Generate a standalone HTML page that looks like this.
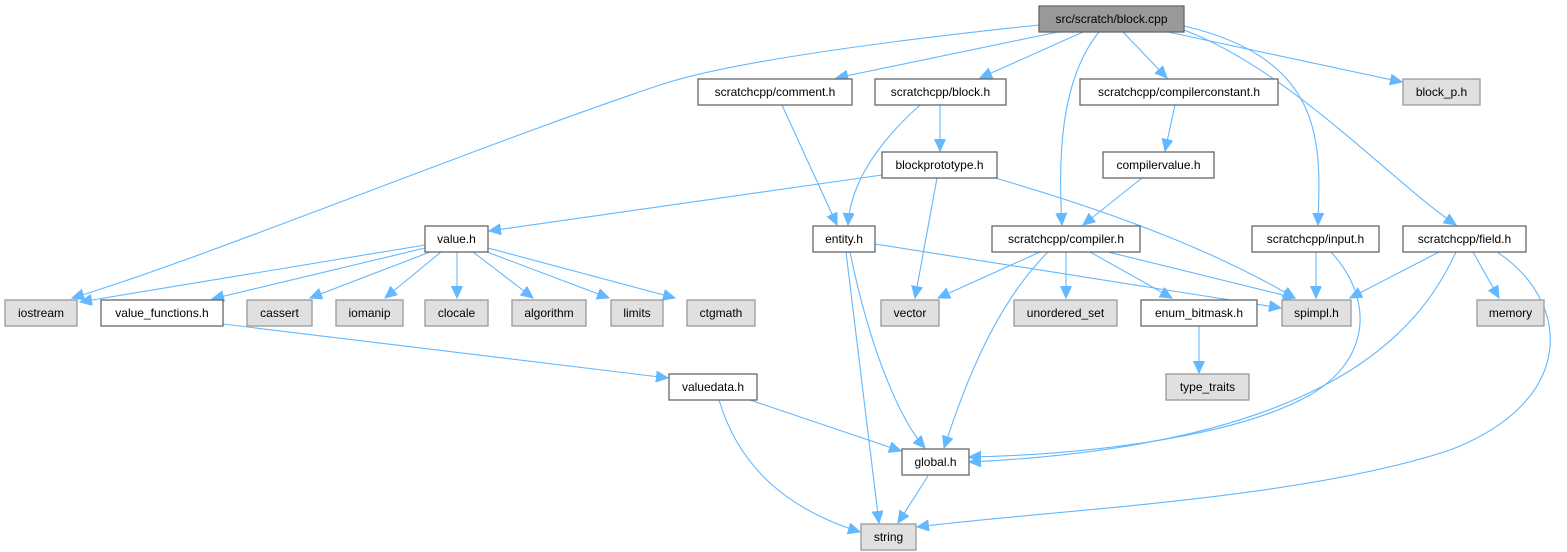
<!DOCTYPE html>
<html><head><meta charset="utf-8"><style>
body{margin:0;background:#fff;}
svg{display:block;}
text{font-family:"Liberation Sans",Arial,sans-serif;font-size:12px;fill:#000;text-anchor:middle;}
.e{fill:none;stroke:#63b8ff;stroke-width:1.1;marker-end:url(#a);}
.w{fill:#fff;stroke:#666;stroke-width:1.3;}
.g{fill:#e0e0e0;stroke:#999;stroke-width:1.3;}
.r{fill:#999;stroke:#666;stroke-width:1.3;}
</style></head><body>
<svg width="1567" height="552" viewBox="0 0 1567 552">
<defs><marker id="a" markerUnits="userSpaceOnUse" markerWidth="14" markerHeight="12" refX="12" refY="5.5" orient="auto"><path d="M0,0 L12,5.5 L0,11 z" fill="#63b8ff" stroke="#63b8ff"/></marker></defs>
<g>
<path class="e" d="M1039,25 C850,45 720,65 660,85 C480,145 200,260 72,298"/>
<path class="e" d="M1058,32 L836,78"/>
<path class="e" d="M1083,32 L980,78"/>
<path class="e" d="M1099,32 C1060,80 1058,160 1062,225"/>
<path class="e" d="M1123,32 L1167,78"/>
<path class="e" d="M1168,32 L1402,82"/>
<path class="e" d="M1184,26 C1330,60 1320,150 1318,225"/>
<path class="e" d="M1184,30 C1290,70 1390,180 1456,225"/>
<path class="e" d="M782,105 L837,225"/>
<path class="e" d="M920,105 C870,150 850,190 848,225"/>
<path class="e" d="M940,105 L940,151"/>
<path class="e" d="M1175,105 L1165,151"/>
<path class="e" d="M882,175 L489,231"/>
<path class="e" d="M937,178 L915,298"/>
<path class="e" d="M995,178 C1140,220 1230,260 1295,298"/>
<path class="e" d="M1142,178 L1083,225"/>
<path class="e" d="M425,245 L80,302"/>
<path class="e" d="M425,248 L212,299"/>
<path class="e" d="M430,252 L310,298"/>
<path class="e" d="M441,252 L385,298"/>
<path class="e" d="M457,252 L457,298"/>
<path class="e" d="M473,252 L533,298"/>
<path class="e" d="M487,252 L609,298"/>
<path class="e" d="M488,248 L675,298"/>
<path class="e" d="M223,324 L668,378"/>
<path class="e" d="M875,244 L1281,308"/>
<path class="e" d="M846,252 L879,523"/>
<path class="e" d="M850,252 C870,350 900,420 925,448"/>
<path class="e" d="M1040,252 L938,298"/>
<path class="e" d="M1066,252 L1066,298"/>
<path class="e" d="M1090,252 L1172,298"/>
<path class="e" d="M1108,252 L1295,298"/>
<path class="e" d="M1048,252 C990,310 960,400 944,448"/>
<path class="e" d="M1199,326 L1199,373"/>
<path class="e" d="M1316,252 L1316,298"/>
<path class="e" d="M1331,252 C1375,300 1370,360 1310,395 C1230,440 1070,455 969,457"/>
<path class="e" d="M1439,252 L1350,298"/>
<path class="e" d="M1456,252 C1420,330 1330,445 969,462"/>
<path class="e" d="M1473,252 L1499,298"/>
<path class="e" d="M1497,252 C1570,300 1580,400 1450,450 C1300,500 1050,510 917,527"/>
<path class="e" d="M750,400 L901,451"/>
<path class="e" d="M719,400 C740,470 790,510 860,532"/>
<path class="e" d="M928,476 L898,523"/>
</g>
<g>
<rect class="r" x="1039" y="6" width="145" height="26"/><text x="1111.5" y="23">src/scratch/block.cpp</text>
<rect class="w" x="698" y="79" width="154" height="26"/><text x="775" y="96">scratchcpp/comment.h</text>
<rect class="w" x="875" y="79" width="131" height="26"/><text x="940.5" y="96">scratchcpp/block.h</text>
<rect class="w" x="1080" y="79" width="198" height="26"/><text x="1179" y="96">scratchcpp/compilerconstant.h</text>
<rect class="g" x="1403" y="79" width="77" height="26"/><text x="1441.5" y="96">block_p.h</text>
<rect class="w" x="882" y="152" width="115" height="26"/><text x="939.5" y="169">blockprototype.h</text>
<rect class="w" x="1103" y="152" width="111" height="26"/><text x="1158.5" y="169">compilervalue.h</text>
<rect class="w" x="425" y="226" width="63" height="26"/><text x="456.5" y="243">value.h</text>
<rect class="w" x="813" y="226" width="62" height="26"/><text x="844" y="243">entity.h</text>
<rect class="w" x="992" y="226" width="148" height="26"/><text x="1066" y="243">scratchcpp/compiler.h</text>
<rect class="w" x="1252" y="226" width="127" height="26"/><text x="1315.5" y="243">scratchcpp/input.h</text>
<rect class="w" x="1403" y="226" width="123" height="26"/><text x="1464.5" y="243">scratchcpp/field.h</text>
<rect class="g" x="5" y="300" width="72" height="26"/><text x="41" y="317">iostream</text>
<rect class="w" x="101" y="300" width="122" height="26"/><text x="162" y="317">value_functions.h</text>
<rect class="g" x="247" y="300" width="65" height="26"/><text x="279.5" y="317">cassert</text>
<rect class="g" x="336" y="300" width="67" height="26"/><text x="369.5" y="317">iomanip</text>
<rect class="g" x="425" y="300" width="63" height="26"/><text x="456.5" y="317">clocale</text>
<rect class="g" x="512" y="300" width="74" height="26"/><text x="549" y="317">algorithm</text>
<rect class="g" x="611" y="300" width="52" height="26"/><text x="637" y="317">limits</text>
<rect class="g" x="687" y="300" width="68" height="26"/><text x="721" y="317">ctgmath</text>
<rect class="g" x="881" y="300" width="58" height="26"/><text x="910" y="317">vector</text>
<rect class="g" x="1014" y="300" width="103" height="26"/><text x="1065.5" y="317">unordered_set</text>
<rect class="w" x="1141" y="300" width="116" height="26"/><text x="1199" y="317">enum_bitmask.h</text>
<rect class="g" x="1282" y="300" width="69" height="26"/><text x="1316.5" y="317">spimpl.h</text>
<rect class="g" x="1477" y="300" width="67" height="26"/><text x="1510.5" y="317">memory</text>
<rect class="w" x="669" y="374" width="88" height="26"/><text x="713" y="391">valuedata.h</text>
<rect class="g" x="1166" y="374" width="83" height="26"/><text x="1207.5" y="391">type_traits</text>
<rect class="w" x="902" y="449" width="67" height="26"/><text x="935.5" y="466">global.h</text>
<rect class="g" x="861" y="524" width="55" height="26"/><text x="888.5" y="541">string</text>
</g>
</svg>
</body></html>
